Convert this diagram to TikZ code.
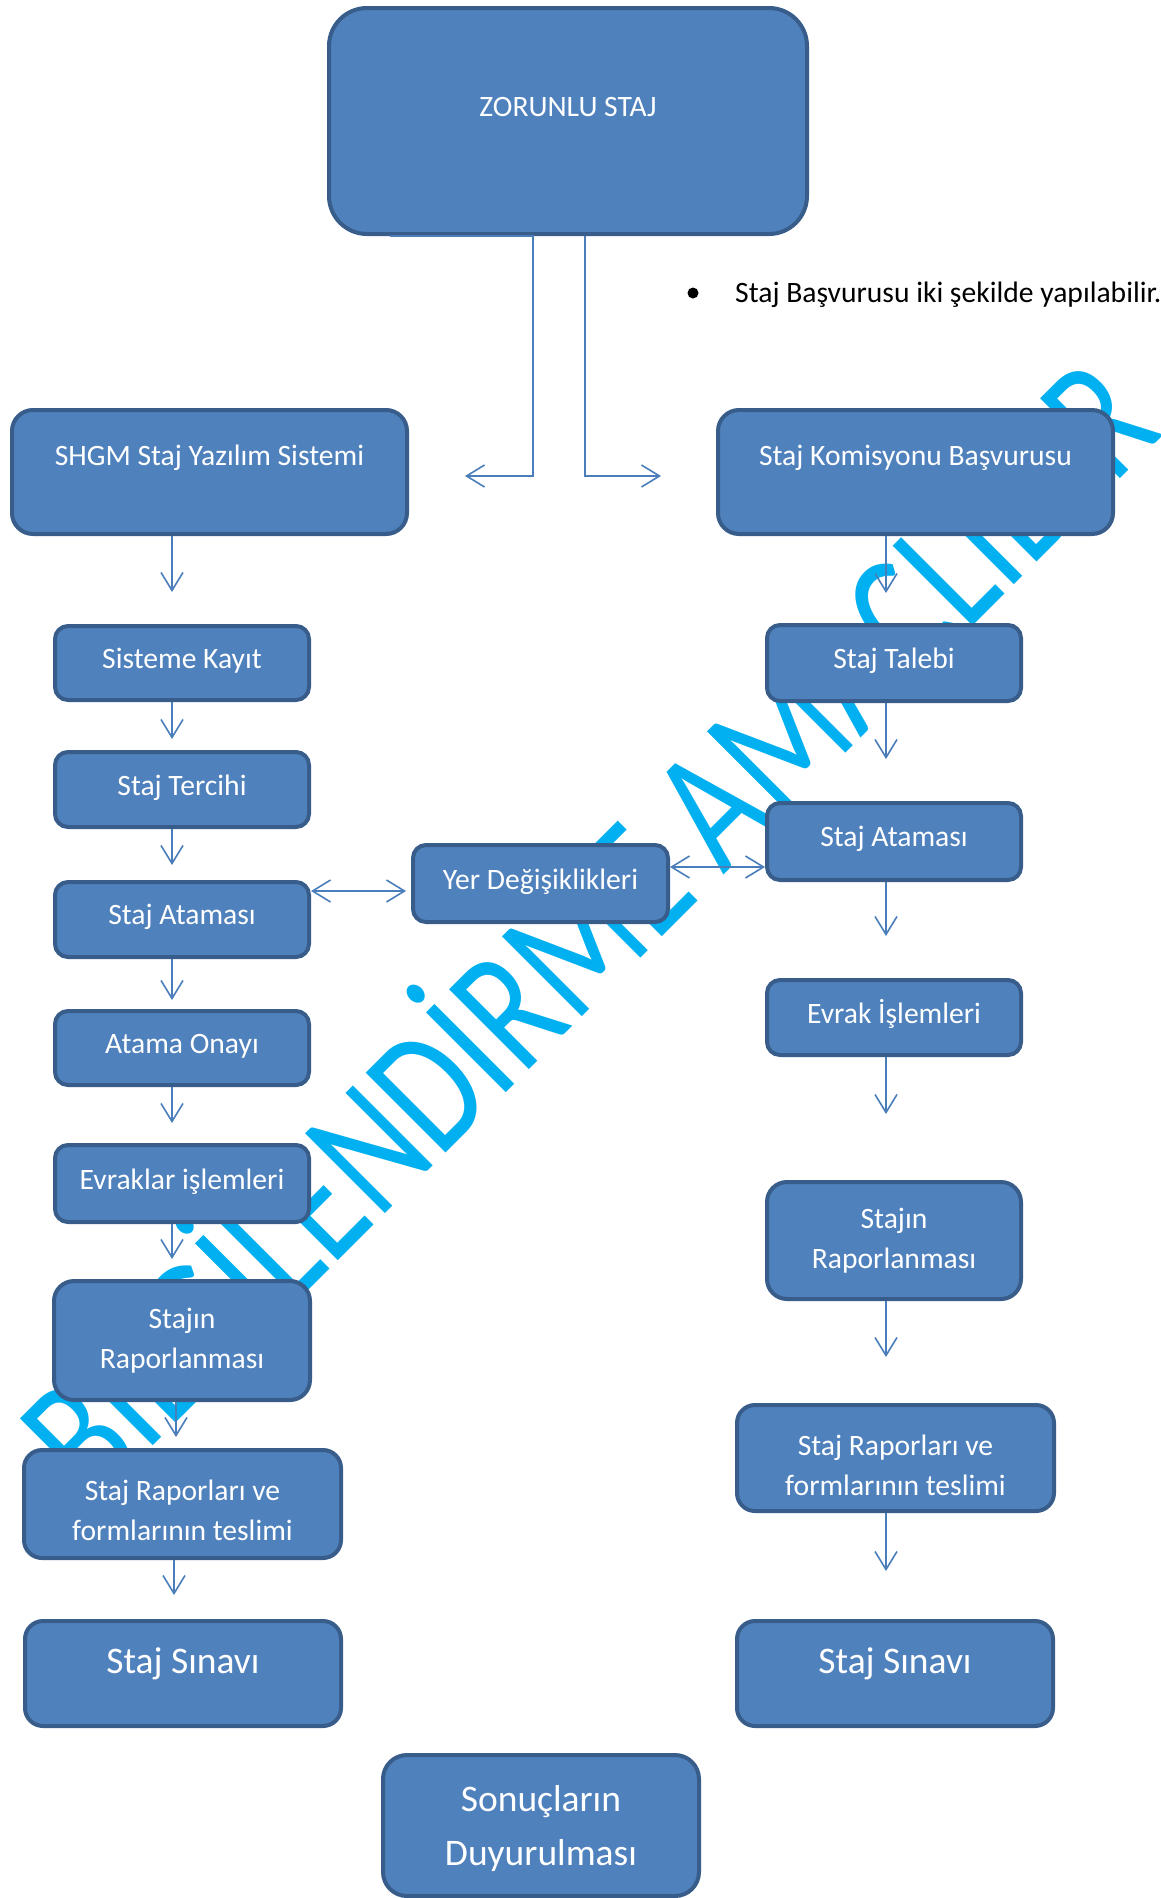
\documentclass[tikz,border=0pt]{standalone}
\usepackage{fontspec}
\setmainfont{Carlito}
\usetikzlibrary{arrows.meta,calc}
\definecolor{boxfill}{HTML}{4F81BD}
\definecolor{boxline}{HTML}{385D8A}
\definecolor{connc}{HTML}{4A7EBB}
\definecolor{wmc}{HTML}{00B0F0}
\newcommand\fsz[2]{\fontsize{#1}{#2}\selectfont}
\begin{document}
\begin{tikzpicture}[x=1pt,y=-1pt,
  >={Straight Barb[length=18pt,width=22pt]},
  box/.style={draw=boxline, fill=boxfill, line width=4pt, rectangle, rounded corners=#1, inner sep=0pt},
  box/.default=13pt,
  lbl/.style={text=white, inner sep=0pt, font=\fsz{29.6}{40}, text height=18.7pt, text depth=0pt},
  lbltwo/.style={text=white, inner sep=0pt, font=\fsz{29.6}{40}, align=center},
  lblbig/.style={text=white, inner sep=0pt, font=\fsz{37.5}{54}, text height=23.7pt, text depth=0pt},
  lblbigtwo/.style={text=white, inner sep=0pt, font=\fsz{37.5}{54}, align=center},
  arr/.style={draw=connc, line width=1.6pt, ->},
  darr/.style={draw=connc, line width=1.6pt, <->},
]
\useasboundingbox (0,0) rectangle (1160,1898);
\fill[white] (0,0) rectangle (1160,1898);

% watermark
\node[text=wmc, inner sep=0pt, rotate=45, anchor=base west] (wmark) at (93,1506)
  {\scalebox{0.767}[1]{\fsz{176}{176}BİLGİLENDİRME AMAÇLIDIR}};

% boxes
\node[box=38pt, minimum width=478pt, minimum height=226pt] (zor) at (568,121) {};
\node[box=21pt, minimum width=395pt, minimum height=124pt] (shgm) at (209.5,472) {};
\node[box=21pt, minimum width=395pt, minimum height=124pt] (kom) at (915.5,472) {};

\node[box, minimum width=254pt, minimum height=74pt] (sis) at (182,663) {};
\node[box, minimum width=254pt, minimum height=75pt] (ter) at (182,789.5) {};
\node[box, minimum width=254pt, minimum height=75pt] (ataL) at (182,919.5) {};
\node[box, minimum width=254pt, minimum height=74pt] (onay) at (182,1048) {};
\node[box, minimum width=254pt, minimum height=77pt] (evrL) at (182,1183.5) {};
\node[box=20pt, minimum width=256pt, minimum height=119pt] (rapL) at (182,1340.5) {};
\node[box=18pt, minimum width=317pt, minimum height=108pt] (tesL) at (182.5,1504) {};
\node[box=18pt, minimum width=316pt, minimum height=105pt] (sinL) at (183,1673.5) {};

\node[box, minimum width=255pt, minimum height=77pt] (yer) at (540.5,883.5) {};

\node[box, minimum width=254pt, minimum height=76pt] (tal) at (894,663) {};
\node[box, minimum width=254pt, minimum height=77pt] (ataR) at (894,841.5) {};
\node[box, minimum width=254pt, minimum height=75pt] (evrR) at (894,1017.5) {};
\node[box=20pt, minimum width=254pt, minimum height=117pt] (rapR) at (894,1240.5) {};
\node[box=18pt, minimum width=317pt, minimum height=106pt] (tesR) at (895.5,1458) {};
\node[box=18pt, minimum width=316pt, minimum height=105pt] (sinR) at (895,1673.5) {};

\node[box=24pt, minimum width=316pt, minimum height=141pt] (son) at (541,1825.5) {};

% texts
\node[lbl] (tzor) at (568,107) {ZORUNLU STAJ};
\node[lbl] (tshgm) at (209.5,456) {SHGM Staj Yazılım Sistemi};
\node[lbl] (tkom) at (915.5,456) {Staj Komisyonu Başvurusu};
\node[lbl] (tsis) at (182,659) {Sisteme Kayıt};
\node[lbl] (tter) at (182,786) {Staj Tercihi};
\node[lbl] (tataL) at (182,915) {Staj Ataması};
\node[lbl] (tonay) at (182,1044) {Atama Onayı};
\node[lbl] (tevrL) at (182,1180) {Evraklar işlemleri};
\node[lbltwo] (trapL) at (182,1341) {Stajın\\Raporlanması};
\node[lbltwo] (ttesL) at (182.5,1510) {Staj Raporları ve\\formlarının teslimi};
\node[lblbig] (tsinL) at (183,1662) {Staj Sınavı};
\node[lbl] (tyer) at (540.5,880) {Yer Değişiklikleri};
\node[lbl] (ttal) at (894,659) {Staj Talebi};
\node[lbl] (tataR) at (894,837) {Staj Ataması};
\node[lbl] (tevrR) at (894,1014) {Evrak İşlemleri};
\node[lbltwo] (trapR) at (894,1241) {Stajın\\Raporlanması};
\node[lbltwo] (ttesR) at (895.5,1465) {Staj Raporları ve\\formlarının teslimi};
\node[lblbig] (tsinR) at (895,1662) {Staj Sınavı};
\node[lblbigtwo] (tson) at (541,1828.5) {Sonuçların\\Duyurulması};

% bullet note
\node[circle, fill=black, minimum size=11pt, inner sep=0pt] (bul) at (693,293) {};
\node[anchor=west, inner sep=0pt, font=\fsz{29.6}{35}, text height=18.7pt, text depth=0pt] (note) at (735,293) {Staj Başvurusu iki şekilde yapılabilir.};

% helper coordinates
\coordinate (e1s) at (390,236);
\coordinate (e2s) at (585,236);
\coordinate (e1t) at (465,476);
\coordinate (e2t) at (661,476);
\coordinate (yL) at (0,891);
\coordinate (yR) at (0,867);
\coordinate (ta1) at (172,592);
\coordinate (ta2) at (172,739);
\coordinate (ta3) at (172,865);
\coordinate (ta4) at (172,1000);
\coordinate (ta5) at (172,1123);
\coordinate (ta6) at (172,1259);
\coordinate (ta7) at (176,1437);
\coordinate (ta8) at (174,1595);
\coordinate (tb1) at (886,593);
\coordinate (tb2) at (886,759);
\coordinate (tb3) at (886,936);
\coordinate (tb4) at (886,1114);
\coordinate (tb5) at (886,1357);
\coordinate (tb6) at (886,1571);

% elbow connectors from the top box
\draw[arr] (e1s) -| (e1t -| 533,0) -- (e1t);
\draw[arr] (e2s) |- (e2t);

% left column
\draw[arr] (shgm.south -| ta1) -- (ta1);
\draw[arr] (sis.south -| ta2) -- (ta2);
\draw[arr] (ter.south -| ta3) -- (ta3);
\draw[arr] (ataL.south -| ta4) -- (ta4);
\draw[arr] (onay.south -| ta5) -- (ta5);
\draw[arr] (evrL.south -| ta6) -- (ta6);
\draw[arr] (rapL.south -| ta7) -- (ta7);
\draw[arr] (tesL.south -| ta8) -- (ta8);

% right column
\draw[arr] (kom.south -| tb1) -- (tb1);
\draw[arr] (tal.south -| tb2) -- (tb2);
\draw[arr] (ataR.south -| tb3) -- (tb3);
\draw[arr] (evrR.south -| tb4) -- (tb4);
\draw[arr] (rapR.south -| tb5) -- (tb5);
\draw[arr] (tesR.south -| tb6) -- (tb6);

% double arrows
\draw[darr] (ataL.east |- yL) -- ([xshift=-5pt]yer.west |- yL);
\draw[darr] (yer.east |- yR) -- (ataR.west |- yR);
\end{tikzpicture}
\end{document}
